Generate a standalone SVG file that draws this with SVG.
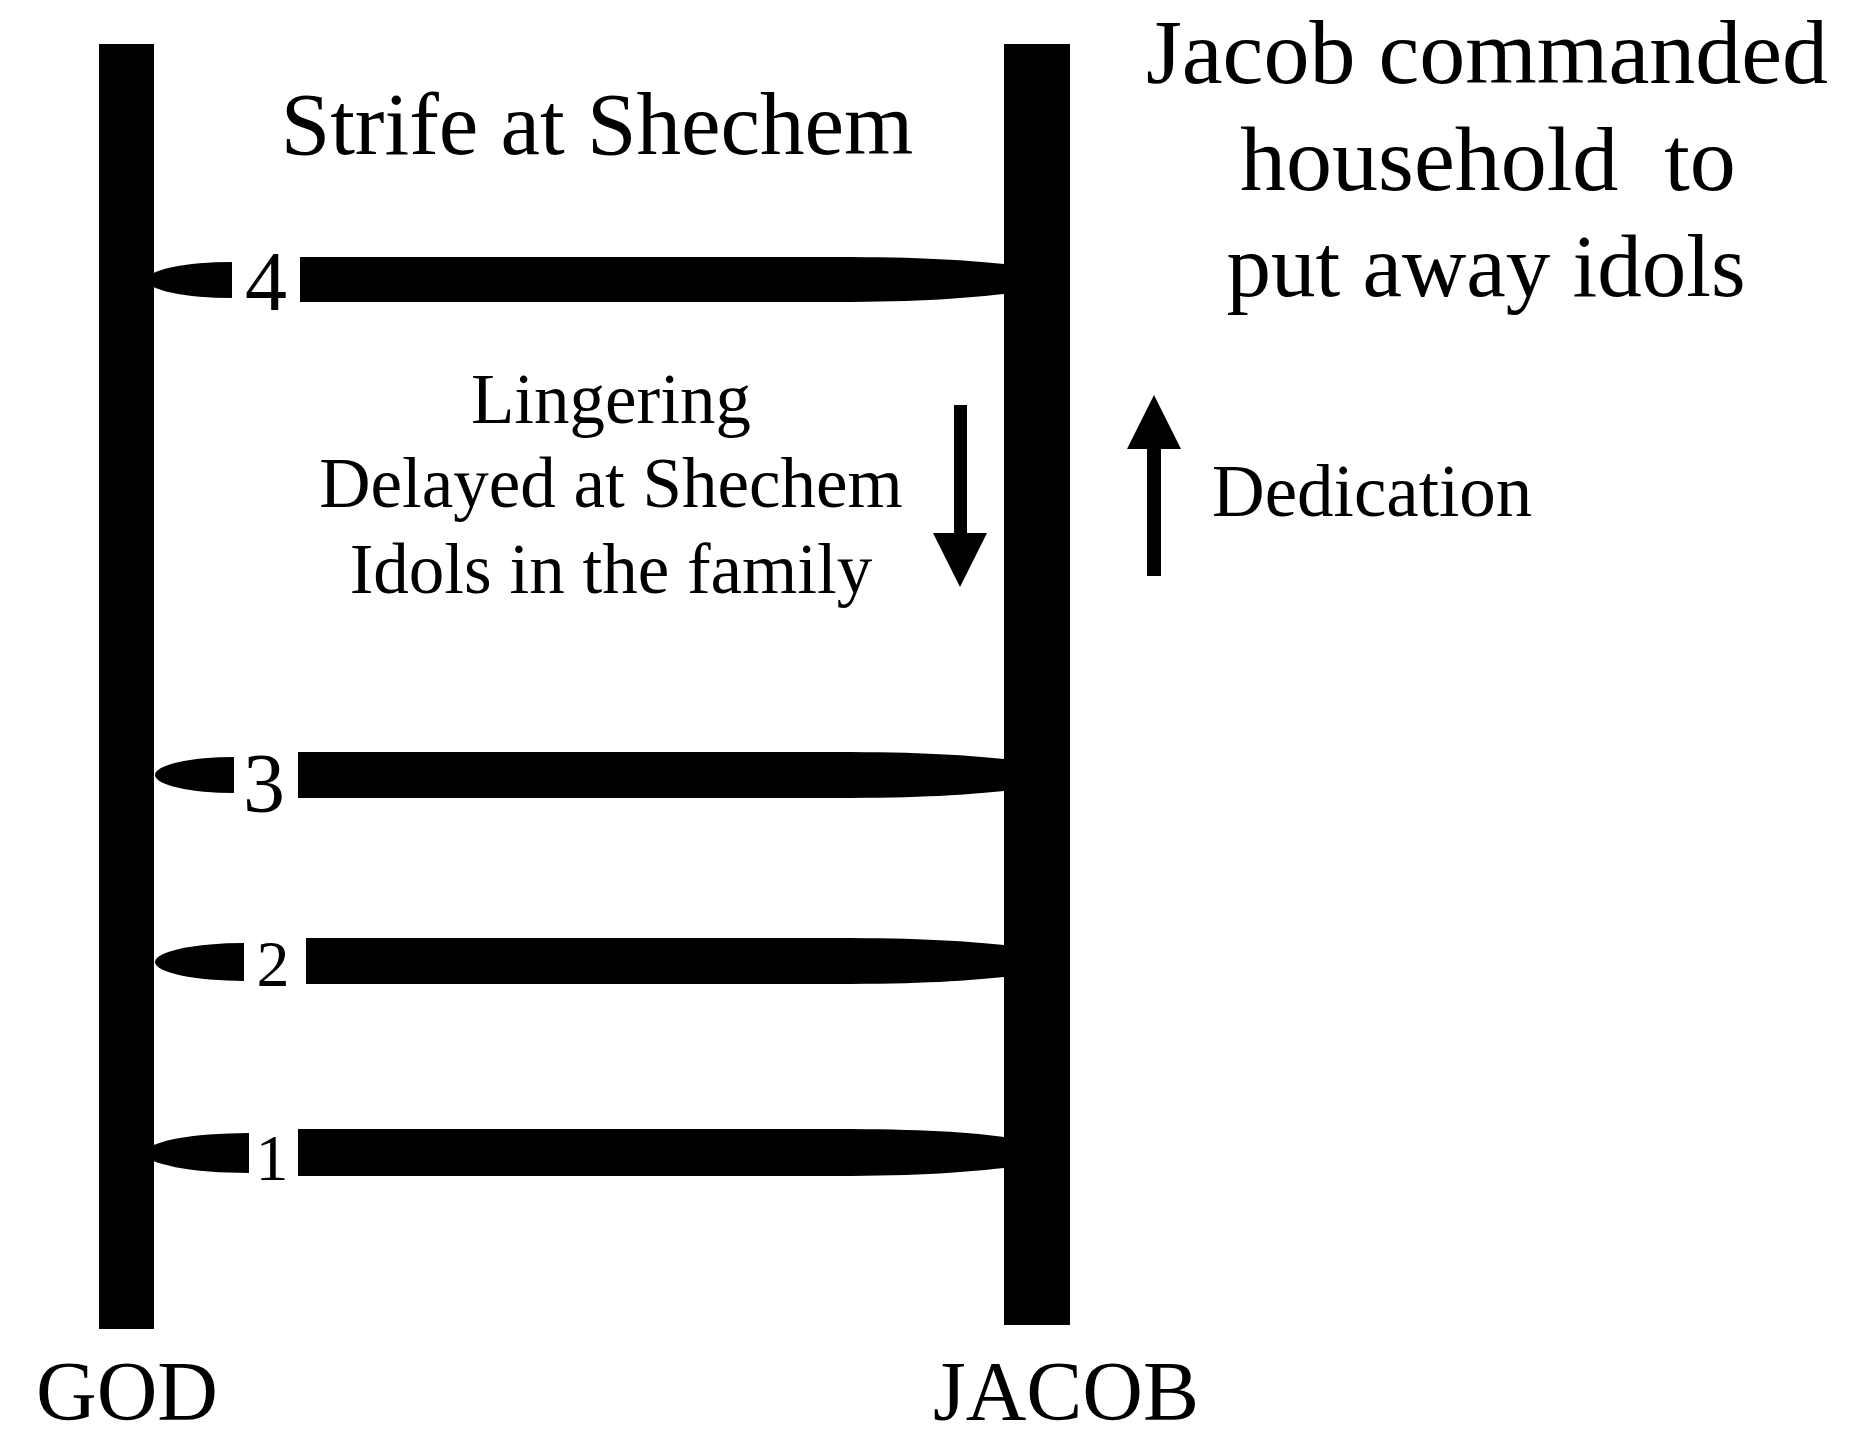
<svg xmlns="http://www.w3.org/2000/svg" width="1859" height="1438" viewBox="0 0 1859 1438">
<style>
text{font-family:"Liberation Serif","Times New Roman",serif;fill:#000;white-space:pre}
.big{font-size:89px}
.big2{font-size:92px}
.mid{font-size:71px}
.ded{font-size:73px}
.lab{font-size:84px}
.num{font-size:84px}
.nums{font-size:66px}
.rung,.pole,.arrow{fill:#000}
</style>
<rect width="1859" height="1438" fill="#fff"/>
<g id="connectors">
<g id="rung4">
<path class="rung" d="M232,262 A85,18 0 0 0 147,280 A85,18 0 0 0 232,298 Z"/>
<path class="rung" d="M300,257 L835,257 C920,257 970,260 1012,265 L1012,293 C970,298 920,302 835,302 L300,302 Z"/>
</g>
<g id="rung3">
<path class="rung" d="M234,757 A79,18 0 0 0 155,775 A79,18 0 0 0 234,793 Z"/>
<path class="rung" d="M298,752 L835,752 C920,752 970,755 1012,760 L1012,790 C970,795 920,798 835,798 L298,798 Z"/>
</g>
<g id="rung2">
<path class="rung" d="M244,943 A89,19 0 0 0 155,962 A89,19 0 0 0 244,981 Z"/>
<path class="rung" d="M306,938 L835,938 C920,938 970,941 1012,946 L1012,976 C970,981 920,984 835,984 L306,984 Z"/>
</g>
<g id="rung1">
<path class="rung" d="M249,1133 A104,20 0 0 0 145,1153 A104,20 0 0 0 249,1173 Z"/>
<path class="rung" d="M298,1129 L835,1129 C920,1129 970,1132 1012,1138 L1012,1167 C970,1172 920,1176 835,1176 L298,1176 Z"/>
</g>
</g>
<g id="god">
<rect class="pole" x="99" y="44" width="55" height="1285"/>
<text class="lab" x="36" y="1420">GOD</text>
</g>
<g id="jacob">
<rect class="pole" x="1004" y="44" width="66" height="1281"/>
<text class="lab" x="1066" y="1420" text-anchor="middle">JACOB</text>
</g>
<g id="numbers">
<text class="num" x="266" y="310" text-anchor="middle">4</text>
<text class="num" x="264" y="812" text-anchor="middle">3</text>
<text class="nums" x="273" y="986" text-anchor="middle">2</text>
<text class="nums" x="272" y="1180" text-anchor="middle">1</text>
</g>
<g id="title">
<text class="big" x="597" y="154" text-anchor="middle">Strife at Shechem</text>
</g>
<g id="command">
<text class="big2" x="1487" y="83" text-anchor="middle">Jacob commanded</text>
<text class="big2" x="1488" y="190" text-anchor="middle">household  to</text>
<text class="big" x="1486" y="296" text-anchor="middle">put away idols</text>
</g>
<g id="lingering">
<text class="mid" x="611" y="423" text-anchor="middle">Lingering</text>
<text class="mid" x="611" y="507" text-anchor="middle">Delayed at Shechem</text>
<text class="mid" x="611" y="593" text-anchor="middle">Idols in the family</text>
<polygon class="arrow" points="954,405 967,405 967,533 987,533 960,587 933,533 954,533"/>
</g>
<g id="dedication">
<polygon class="arrow" points="1147,576 1161,576 1161,449 1181,449 1154,395 1127,449 1147,449"/>
<text class="ded" x="1212" y="516">Dedication</text>
</g>
</svg>
